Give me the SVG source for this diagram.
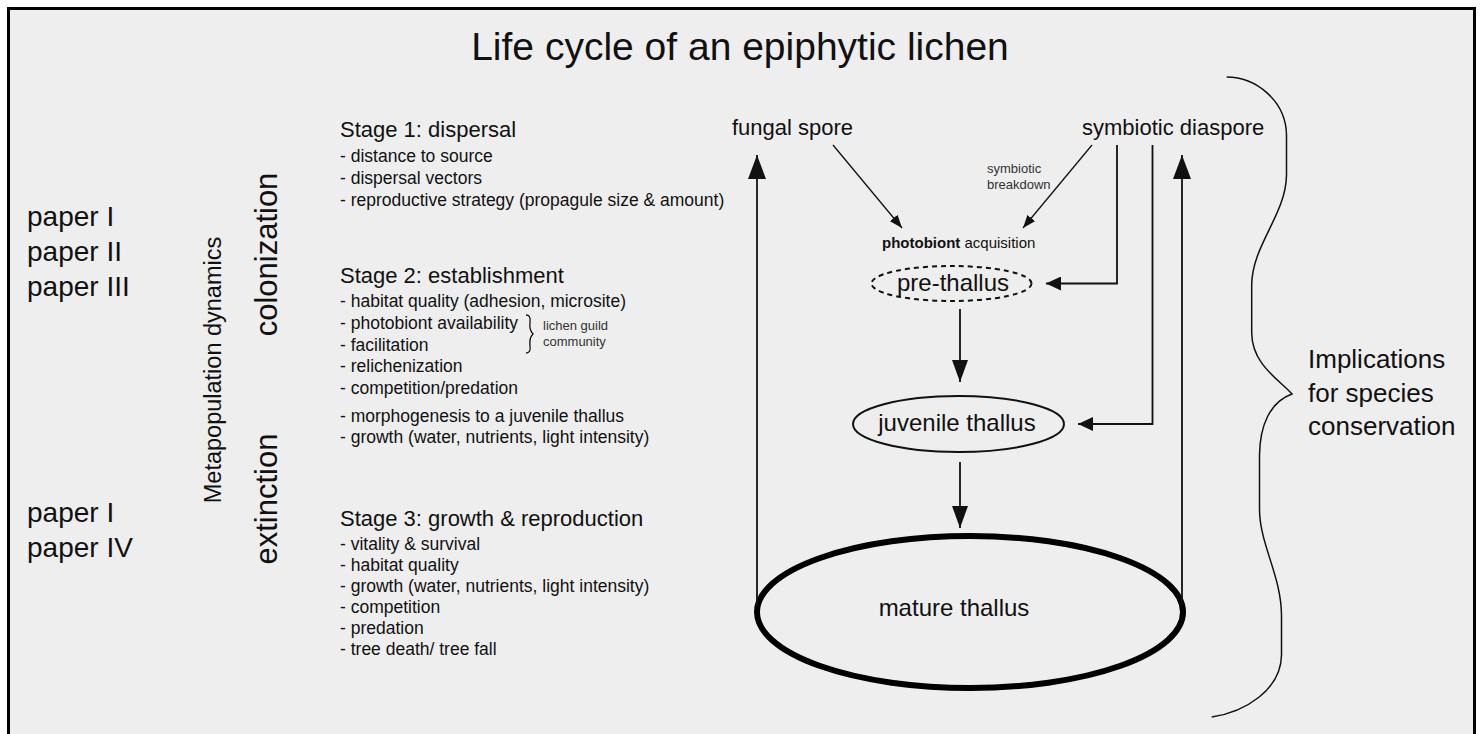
<svg xmlns="http://www.w3.org/2000/svg" width="1480" height="734" viewBox="0 0 1480 734">
  <style>
    text { font-family: "Liberation Sans", Arial, sans-serif; fill: #111; }
    .title { font-size: 39px; }
    .paper { font-size: 28px; }
    .stage { font-size: 22px; }
    .item { font-size: 17.5px; }
    .small { font-size: 13px; fill: #333; }
    .node { font-size: 22px; }
    .ell { font-size: 24px; }
    .impl { font-size: 26px; }
    .thin { stroke: #111; stroke-width: 1.3; fill: none; }
    .mid { stroke: #111; stroke-width: 1.8; fill: none; }
    .brace { stroke: #111; stroke-width: 1.5; fill: none; }
  </style>
  <defs>
    <marker id="big" markerUnits="userSpaceOnUse" markerWidth="24" markerHeight="18" refX="24" refY="9" orient="auto" viewBox="0 0 24 18">
      <path d="M0,0 L24,9 L0,18 Z" fill="#111"/>
    </marker>
    <marker id="med" markerUnits="userSpaceOnUse" markerWidth="22" markerHeight="16" refX="22" refY="8" orient="auto" viewBox="0 0 22 16">
      <path d="M0,0 L22,8 L0,16 Z" fill="#111"/>
    </marker>
    <marker id="elb" markerUnits="userSpaceOnUse" markerWidth="15" markerHeight="14" refX="15" refY="7" orient="auto" viewBox="0 0 15 14">
      <path d="M0,0 L15,7 L0,14 Z" fill="#111"/>
    </marker>
    <marker id="sm" markerUnits="userSpaceOnUse" markerWidth="13" markerHeight="10" refX="13" refY="5" orient="auto" viewBox="0 0 13 10">
      <path d="M0,0 L13,5 L0,10 Z" fill="#111"/>
    </marker>
  </defs>

  <rect x="0" y="0" width="1480" height="734" fill="#ffffff"/>
  <rect x="8.5" y="8.5" width="1466" height="740" fill="#eeeeee" stroke="#000" stroke-width="3"/>

  <text class="title" x="740" y="60" text-anchor="middle">Life cycle of an epiphytic lichen</text>

  <g id="papers">
    <text class="paper" x="27" y="226">paper I</text>
    <text class="paper" x="27" y="261">paper II</text>
    <text class="paper" x="27" y="296">paper III</text>
    <text class="paper" x="27" y="522">paper I</text>
    <text class="paper" x="27" y="557">paper IV</text>
  </g>

  <g id="metapop">
    <text x="0" y="0" text-anchor="middle" font-size="23.5" transform="translate(221,370) rotate(-90)">Metapopulation dynamics</text>
    <text x="0" y="0" text-anchor="middle" font-size="31" transform="translate(277,254.5) rotate(-90)">colonization</text>
    <text x="0" y="0" text-anchor="middle" font-size="31" transform="translate(277,499) rotate(-90)">extinction</text>
  </g>

  <g id="stage1">
    <text class="stage" x="340" y="137">Stage 1: dispersal</text>
    <text class="item" x="340" y="162">- distance to source</text>
    <text class="item" x="340" y="184">- dispersal vectors</text>
    <text class="item" x="340" y="206">- reproductive strategy (propagule size &amp; amount)</text>
  </g>

  <g id="stage2">
    <text class="stage" x="340" y="283">Stage 2: establishment</text>
    <text class="item" x="340" y="307">- habitat quality (adhesion, microsite)</text>
    <text class="item" x="340" y="329">- photobiont availability</text>
    <text class="item" x="340" y="351">- facilitation</text>
    <text class="item" x="340" y="372">- relichenization</text>
    <text class="item" x="340" y="394">- competition/predation</text>
    <text class="item" x="340" y="422">- morphogenesis to a juvenile thallus</text>
    <text class="item" x="340" y="443">- growth (water, nutrients, light intensity)</text>
    <path class="thin" d="M526,315 Q531,315 530,322 Q529,330 533,334 Q529,338 530,346 Q531,353 526,353"/>
    <text class="small" x="543" y="330">lichen guild</text>
    <text class="small" x="543" y="346">community</text>
  </g>

  <g id="stage3">
    <text class="stage" x="340" y="526">Stage 3: growth &amp; reproduction</text>
    <text class="item" x="340" y="550">- vitality &amp; survival</text>
    <text class="item" x="340" y="571">- habitat quality</text>
    <text class="item" x="340" y="592">- growth (water, nutrients, light intensity)</text>
    <text class="item" x="340" y="613">- competition</text>
    <text class="item" x="340" y="634">- predation</text>
    <text class="item" x="340" y="655">- tree death/ tree fall</text>
  </g>

  <g id="fungal-spore">
    <text class="node" x="732" y="135">fungal spore</text>
  </g>
  <g id="symbiotic-diaspore">
    <text class="node" x="1082" y="135">symbiotic diaspore</text>
  </g>
  <g id="photobiont">
    <text font-size="15" x="882" y="248"><tspan font-weight="bold">photobiont</tspan> acquisition</text>
  </g>
  <g id="pre-thallus">
    <ellipse cx="951.5" cy="283.5" rx="80" ry="17.5" fill="none" stroke="#111" stroke-width="2" stroke-dasharray="5,4"/>
    <text class="ell" x="953" y="291" text-anchor="middle">pre-thallus</text>
  </g>
  <g id="juvenile-thallus">
    <ellipse cx="958.5" cy="424" rx="105.5" ry="28" fill="none" stroke="#111" stroke-width="2"/>
    <text class="ell" x="957" y="431" text-anchor="middle">juvenile thallus</text>
  </g>
  <g id="mature-thallus">
    <ellipse cx="970" cy="612" rx="213" ry="76" fill="none" stroke="#000" stroke-width="6"/>
    <text class="ell" x="954" y="616" text-anchor="middle">mature thallus</text>
  </g>

  <g id="connectors">
    <line class="thin" x1="833" y1="145" x2="902" y2="228" marker-end="url(#sm)"/>
    <line class="thin" x1="1092" y1="145" x2="1023" y2="228" marker-end="url(#sm)"/>
    <text class="small" x="987" y="173">symbiotic</text>
    <text class="small" x="987" y="189">breakdown</text>
    <polyline class="mid" points="1117,145 1117,283.5 1046,283.5" marker-end="url(#elb)"/>
    <polyline class="mid" points="1152.5,145 1152.5,424 1078,424" marker-end="url(#elb)"/>
    <line class="mid" x1="960" y1="309" x2="960" y2="382" marker-end="url(#med)"/>
    <line class="mid" x1="960" y1="462" x2="960" y2="528" marker-end="url(#med)"/>
    <line class="mid" x1="757" y1="606" x2="757" y2="155" marker-end="url(#big)"/>
    <line class="mid" x1="1182" y1="606" x2="1182" y2="155" marker-end="url(#big)"/>
  </g>

  <g id="implications">
    <path class="brace" d="M1226.7,77 C1255,77 1286,100 1286.5,135 L1286.5,175 C1286,215 1252,245 1251.7,285 L1251.7,333 C1252,365 1280,380 1292,394 C1270,402 1260,425 1259.5,455 L1259.5,510 C1260,545 1281,575 1281.5,615 L1281.5,655 C1281,690 1245,712 1211.7,717"/>
    <text class="impl" x="1308" y="368">Implications</text>
    <text class="impl" x="1308" y="402">for species</text>
    <text class="impl" x="1308" y="435">conservation</text>
  </g>
</svg>
